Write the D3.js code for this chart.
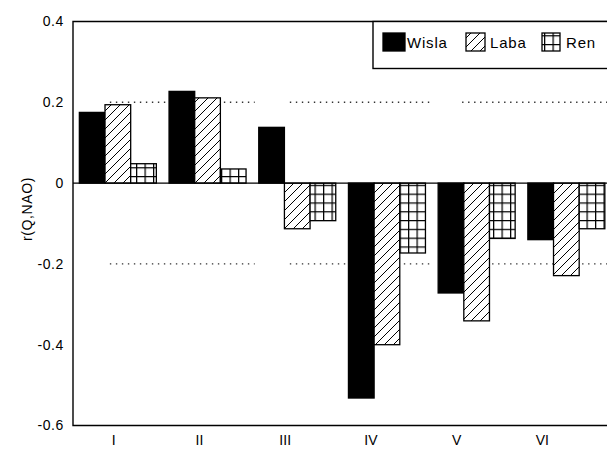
<!DOCTYPE html>
<html><head><meta charset="utf-8">
<script src="https://cdn.jsdelivr.net/npm/d3@7"></script>
<style>
html,body{margin:0;padding:0;background:#fff;}
svg{display:block;}
text{font-family:"Liberation Sans",Arial,sans-serif;fill:#000;}
</style></head>
<body>
<svg id="chart" width="607" height="451"></svg>
<script>
const categories = ["I","II","III","IV","V","VI"];
const seriesNames = ["Wisla","Laba","Ren"];
const wisla = [0.175, 0.227, 0.138, -0.532, -0.272, -0.140];
const laba  = [0.194, 0.211, -0.113, -0.400, -0.341, -0.229];
const ren   = [0.048, 0.035, -0.093, -0.173, -0.137, -0.113];
const yTicks = [0.4, 0.2, 0, -0.2, -0.4, -0.6];
const yTickLabels = ["0.4","0.2","0","-0.2","-0.4","-0.6"];
const refLevels = [0.2, -0.2];
const refSegments = [[0.96, 2.65], [3.06, 4.72], [5.07, 6.9]];

(function () {
const series = [wisla, laba, ren];
const fills = ["#000", "url(#hatch)", "url(#grid)"];

const svg = d3.select("#chart");
const mLeft = 73, mTop = 21.5, mBottom = 425.5, rightEdge = 620;

const defs = svg.append("defs");
const hp = defs.append("pattern").attr("id","hatch").attr("patternUnits","userSpaceOnUse")
  .attr("width",9).attr("height",9);
hp.append("rect").attr("width",9).attr("height",9).attr("fill","#fff");
hp.append("path").attr("d","M0,9 L9,0 M-2,2 L2,-2 M7,11 L11,7").attr("stroke","#000").attr("stroke-width",1);
const gp = defs.append("pattern").attr("id","grid").attr("patternUnits","userSpaceOnUse")
  .attr("width",8.5).attr("height",8.8);
gp.append("rect").attr("width",8.5).attr("height",8.8).attr("fill","#fff");
gp.append("path").attr("d","M0,0.6 H8.5 M0.6,0 V8.8").attr("stroke","#000").attr("stroke-width",1.3);

const y = d3.scaleLinear().domain([-0.6, 0.4]).range([mBottom, mTop]);
const x0 = d3.scaleBand().domain(categories).range([73, 611.2]).paddingInner(0.1416).paddingOuter(0.0708);
const x1 = d3.scaleBand().domain(seriesNames).range([0, x0.bandwidth()]);
const xLab = d3.scalePoint().domain(categories).range([113.3, 541.8]);
const xLin = d3.scaleLinear().domain([1, 6]).range([113.3, 541.8]);

refLevels.forEach(lv => {
  svg.append("g").selectAll("line").data(refSegments).join("line")
    .attr("x1", d => xLin(d[0])).attr("x2", d => xLin(d[1]))
    .attr("y1", y(lv)).attr("y2", y(lv))
    .attr("stroke", "#333").attr("stroke-width", 1.4).attr("stroke-dasharray", "1.4,4.6");
});

const g = svg.append("g");
categories.forEach((c, i) => {
  seriesNames.forEach((s, j) => {
    const v = series[j][i];
    g.append("rect")
      .attr("x", x0(c) + x1(s))
      .attr("width", x1.bandwidth())
      .attr("y", y(Math.max(0, v)))
      .attr("height", Math.abs(y(v) - y(0)))
      .attr("fill", fills[j])
      .attr("stroke", "#000").attr("stroke-width", 1.3);
  });
});

svg.append("line").attr("x1", mLeft).attr("x2", rightEdge).attr("y1", y(0)).attr("y2", y(0))
  .attr("stroke", "#000").attr("stroke-width", 1.3);

svg.append("path").attr("d", `M${rightEdge},${mTop} H${mLeft} V${mBottom} H${rightEdge}`)
  .attr("fill", "none").attr("stroke", "#000").attr("stroke-width", 1.4);

const yAxis = d3.axisLeft(y).tickValues(yTicks).tickSize(0).tickPadding(9)
  .tickFormat((d, i) => yTickLabels[i]);
const ya = svg.append("g").attr("transform", `translate(${mLeft},0)`).call(yAxis);
ya.select(".domain").remove();
ya.selectAll("text").attr("font-size", 14).attr("letter-spacing", "0.6px")
  .attr("font-family", '"Liberation Sans",Arial,sans-serif');

const xAxis = d3.axisBottom(xLab).tickSize(0).tickPadding(10);
const xa = svg.append("g").attr("transform", `translate(0,${mBottom})`).call(xAxis);
xa.select(".domain").remove();
xa.selectAll("text").attr("font-size", 14).attr("font-family", '"Liberation Sans",Arial,sans-serif');

svg.append("text").attr("transform", "translate(32,209) rotate(-90)")
  .attr("text-anchor", "middle").attr("font-size", 14).attr("letter-spacing", "0.6px")
  .text("r(Q,NAO)");

const lg = svg.append("g");
lg.append("rect").attr("x", 373).attr("y", mTop).attr("width", 260).attr("height", 47)
  .attr("fill", "#fff").attr("stroke", "#000").attr("stroke-width", 1.4);
const legendItems = [
  {name: seriesNames[0], fill: fills[0], sx: 383, sw: 22, tx: 407},
  {name: seriesNames[1], fill: fills[1], sx: 466, sw: 19, tx: 490},
  {name: seriesNames[2], fill: fills[2], sx: 542, sw: 18, tx: 566}
];
legendItems.forEach(d => {
  lg.append("rect").attr("x", d.sx).attr("y", 33).attr("width", d.sw).attr("height", 18)
    .attr("fill", d.fill).attr("stroke", "#000").attr("stroke-width", 1.3);
  lg.append("text").attr("x", d.tx).attr("y", 48).attr("font-size", 15).attr("letter-spacing", "0.8px")
    .text(d.name);
});
})();
</script>
</body></html>
